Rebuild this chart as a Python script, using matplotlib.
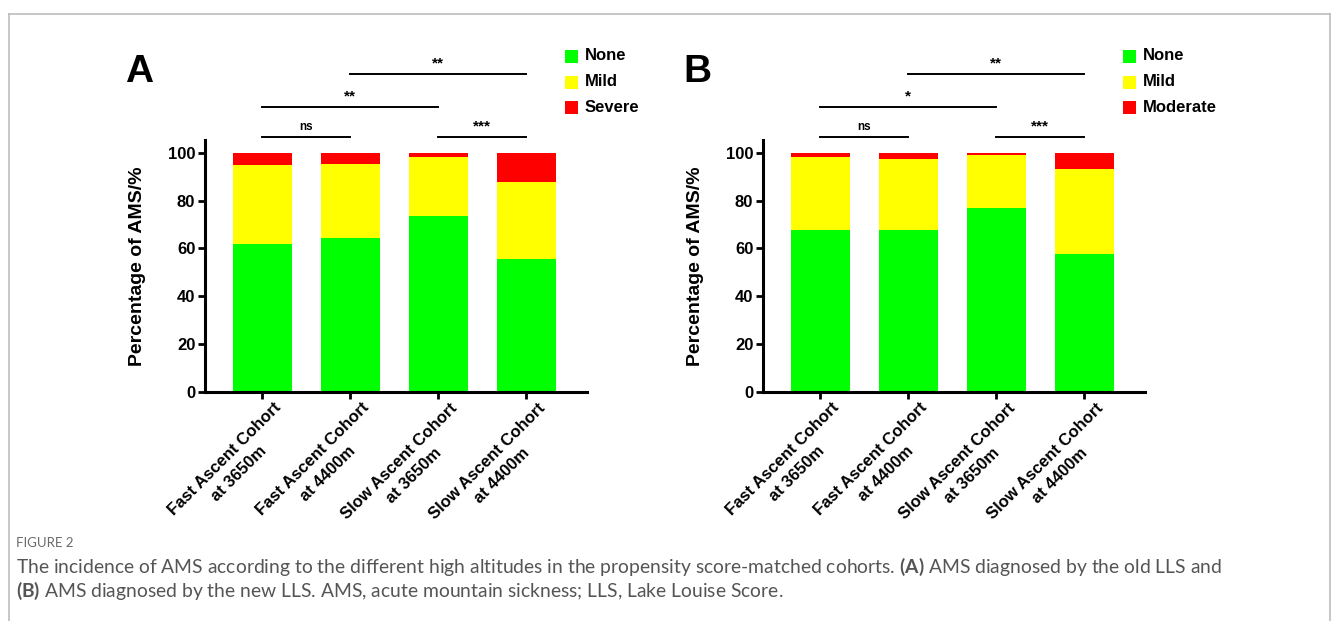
import matplotlib
matplotlib.use("Agg")
import matplotlib.pyplot as plt
from matplotlib.lines import Line2D
from matplotlib.patches import Rectangle
from matplotlib.transforms import ScaledTranslation, blended_transform_factory
import numpy as np

plt.rcParams['font.family'] = ['Liberation Sans', 'DejaVu Sans']
plt.rcParams['mathtext.fontset'] = 'custom'
plt.rcParams['mathtext.bf'] = 'Lato:bold'
plt.rcParams['mathtext.rm'] = 'Lato'

# data (percent)
cohorts = ["Fast Ascent Cohort\nat 3650m", "Fast Ascent Cohort\nat 4400m",
           "Slow Ascent Cohort\nat 3650m", "Slow Ascent Cohort\nat 4400m"]

a_none = [62.0, 64.2, 73.5, 55.4]
a_mild = [33.0, 31.1, 24.7, 32.5]
a_severe = [5.0, 4.7, 1.8, 12.1]

b_none = [67.7, 67.7, 76.9, 57.7]
b_mild = [30.5, 29.7, 22.3, 35.4]
b_moderate = [1.8, 2.6, 0.8, 6.9]

# significance brackets: (from bar, to bar, label, level)
a_sig = [(0, 1, "ns", 0), (2, 3, "***", 0), (0, 2, "**", 1), (1, 3, "**", 2)]
b_sig = [(0, 1, "ns", 0), (2, 3, "***", 0), (0, 2, "*", 1), (1, 3, "**", 2)]

GREEN = "#00ff00"
YELLOW = "#ffff00"
RED = "#ff0000"

W, H = 1333, 621
fig = plt.figure(figsize=(W / 100, H / 100), dpi=100)


def draw_panel(rect, none, mild, top, top_name, sig, letter):
    ax = fig.add_axes(rect)
    x = np.arange(len(none))
    bw = 0.67
    ax.bar(x, none, bw, color=GREEN, linewidth=0)
    ax.bar(x, mild, bw, bottom=none, color=YELLOW, linewidth=0)
    ax.bar(x, top, bw, bottom=np.add(none, mild), color=RED, linewidth=0)

    ax.set_xlim(-0.65, 3.69)
    ax.set_ylim(0, 105.3)
    ax.set_yticks([0, 20, 40, 60, 80, 100])
    ax.set_xticks(x)
    ax.set_xticklabels([])
    # rotated category labels, placed a bit right of each tick like the original
    trans = blended_transform_factory(ax.transData, ax.transAxes) + \
        ScaledTranslation(11 / 100, -8 / 100, fig.dpi_scale_trans)
    for xi, name in zip(x, cohorts):
        ax.text(xi, 0, name, transform=trans, rotation=45, ha='right', va='top',
                rotation_mode='anchor', multialignment='center', fontsize=12,
                fontweight='bold', linespacing=1.5)
    for lab in ax.get_yticklabels():
        lab.set_fontweight('bold')
        lab.set_fontsize(12)
    ax.tick_params(axis='both', direction='out', length=5, width=2, pad=2)
    for s in ['top', 'right']:
        ax.spines[s].set_visible(False)
    for s in ['left', 'bottom']:
        ax.spines[s].set_linewidth(2.2)
    ax.set_ylabel("Percentage of AMS/%", fontsize=14, fontweight='bold', labelpad=16)

    # significance lines above the axis
    levels = [106.6, 119.1, 132.9]
    for i, j, txt, lev in sig:
        yy = levels[lev]
        ax.plot([i, j], [yy, yy], color='black', lw=1.4, clip_on=False)
        fs = 8.5 if txt == "ns" else 11
        ax.text((i + j) / 2, yy + 1.5, txt, ha='center', va='bottom',
                fontsize=fs, fontweight='bold', clip_on=False)

    # legend drawn in figure pixels
    x0 = rect[0] * W + 360
    names = ["None", "Mild", top_name]
    cols = [GREEN, YELLOW, RED]
    for k, (nm, c) in enumerate(zip(names, cols)):
        yc = 56 + k * 26
        fig.add_artist(Rectangle(((x0) / W, 1 - (yc + 6.5) / H), 13 / W, 13 / H,
                                 transform=fig.transFigure, color=c, lw=0))
        fig.text((x0 + 20) / W, 1 - yc / H, nm, ha='left', va='center',
                 fontsize=12, fontweight='bold')

    fig.text((rect[0] * W - 80) / W, 1 - 72 / H, letter, ha='left', va='center',
             fontsize=28, fontweight='bold')
    return ax


draw_panel([205 / W, 1 - 392 / H, 382 / W, 252 / H], a_none, a_mild, a_severe,
           "Severe", a_sig, "A")
draw_panel([763 / W, 1 - 392 / H, 382 / W, 252 / H], b_none, b_mild, b_moderate,
           "Moderate", b_sig, "B")

# frame around figure
fc = "#bdbdbd"
fig.add_artist(Line2D([9 / W, 1330 / W], [1 - 14 / H, 1 - 14 / H], color=fc, lw=1.2))
fig.add_artist(Line2D([9 / W, 9 / W], [0, 1 - 14 / H], color=fc, lw=1.2))
fig.add_artist(Line2D([1330 / W, 1330 / W], [0, 1 - 14 / H], color=fc, lw=1.2))

# caption
cap_font = ['Lato', 'DejaVu Sans']
fig.text(16 / W, 1 - 543 / H, "FIGURE 2", fontsize=9.5, color="#6a6a6a",
         family=cap_font, va='center')
fig.text(16 / W, 1 - 567 / H,
         "The incidence of AMS according to the different high altitudes in the propensity "
         "score-matched cohorts. $\\bf{(A)}$ AMS diagnosed by the old LLS and",
         fontsize=13.9, color="#555555", family=cap_font, va='center')
fig.text(16 / W, 1 - 591 / H,
         "$\\bf{(B)}$ AMS diagnosed by the new LLS. AMS, acute mountain sickness; LLS, Lake Louise Score.",
         fontsize=13.9, color="#555555", family=cap_font, va='center')

fig.savefig("out.png", dpi=100)
